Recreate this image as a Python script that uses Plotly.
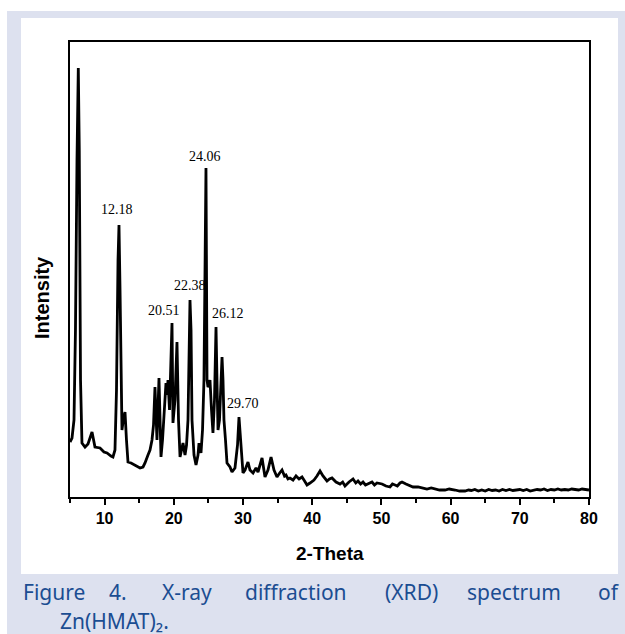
import plotly.graph_objects as go

# ---------------- data ----------------
two_theta = [5.00, 5.29, 5.58, 5.79, 6.01, 6.20, 6.34, 6.52, 6.73, 7.17, 7.60, 8.18, 8.61, 9.34,
             9.91, 10.35, 10.92, 11.21, 11.50, 11.72, 11.94, 12.08, 12.23, 12.37, 12.51, 12.73,
             12.95, 13.16, 13.38, 13.82, 14.39, 15.12, 15.55, 15.84, 16.27, 16.56, 16.85, 17.07,
             17.28, 17.43, 17.57, 17.86, 18.01, 18.15, 18.37, 18.58, 18.87, 19.02, 19.16, 19.38,
             19.60, 19.74, 19.88, 20.17, 20.46, 20.68, 20.90, 21.11, 21.33, 21.62, 21.84, 22.05,
             22.20, 22.34, 22.49, 22.63, 22.92, 23.21, 23.50, 23.64, 23.93, 24.15, 24.36, 24.51,
             24.65, 24.80, 24.94, 25.16, 25.23, 25.45, 25.66, 25.88, 26.10, 26.24, 26.39, 26.60,
             26.82, 26.97, 27.11, 27.25, 27.47, 27.69, 28.12, 28.41, 28.84, 29.21, 29.42, 29.64,
             30.00, 30.29, 30.72, 31.01, 31.45, 31.88, 32.17, 32.75, 33.18, 33.61, 34.05, 34.48,
             34.91, 35.30, 35.64, 36.00, 36.21, 36.50, 36.79, 37.23, 37.66, 38.10, 38.53, 38.90,
             39.25, 39.68, 40.26, 40.69, 41.13, 41.56, 42.14, 42.50, 42.86, 43.44, 44.02, 44.40,
             44.74, 45.32, 45.90, 46.30, 46.62, 47.00, 47.34, 47.70, 48.06, 48.64, 49.00, 49.36,
             50.09, 50.66, 51.24, 51.60, 51.97, 52.30, 52.69, 52.98, 53.55, 54.13, 54.57, 55.29,
             55.87, 56.59, 57.20, 57.75, 58.40, 59.19, 59.80, 60.64, 61.30, 62.08, 62.60, 63.0,
             63.5, 64.0, 64.5, 65.0, 65.5, 66.0, 66.5, 67.0, 67.5, 68.0, 68.5, 69.0, 69.5, 70.0,
             70.5, 71.0, 71.5, 72.0, 72.5, 73.0, 73.5, 74.0, 74.5, 75.0, 75.5, 76.0, 76.5, 77.0,
             77.5, 78.0, 78.5, 79.0, 79.5, 80.0]
intensity = [55, 59, 77, 167, 337, 429, 347, 117, 54, 50, 53, 65, 50, 49,
             45, 44, 41, 40, 47, 107, 237, 272, 207, 97, 67, 79,
             85, 57, 35, 34, 32, 29, 30, 34, 42, 47, 57, 72,
             110, 77, 57, 119, 77, 40, 57, 77, 114, 102, 117, 87,
             137, 174, 74, 97, 155, 77, 40, 47, 54, 42, 52, 77,
             157, 197, 167, 77, 42, 32, 42, 54, 44, 67, 117, 217,
             329, 117, 110, 112, 117, 87, 64, 97, 170, 117, 67, 77,
             117, 140, 117, 77, 57, 34, 30, 25, 29, 52, 80, 57,
             24, 27, 35, 27, 24, 29, 25, 39, 20, 27, 40, 27,
             20, 24, 27, 21, 22, 18, 19, 17, 21, 18, 20, 16,
             12, 14, 17, 21, 26, 21, 16, 18, 19, 15, 13, 15,
             11, 15, 18, 14, 16, 13, 15, 12, 13, 15, 12, 14,
             13, 11, 10, 13, 12, 11, 14, 15, 13, 11, 10, 10,
             9, 8, 9, 8, 7, 7, 8, 7, 6, 6, 7, 6.5,
             7.5, 6, 7, 6, 7.5, 6.5, 7, 6, 7.5, 6.5, 7.5, 6.5, 7, 7.5,
             6.5, 7.5, 6, 7, 7.5, 7, 8, 6.5, 7.5, 7, 8, 7, 7.5, 7,
             8, 7.5, 7, 8, 7.5, 7]

peak_labels = ["12.18", "20.51", "22.38", "24.06", "26.12", "29.70"]
x_tick_vals = [10, 20, 30, 40, 50, 60, 70, 80]
x_title = "2-Theta"
y_title = "Intensity"
caption_line1 = ["Figure", "4.", "X-ray", "diffraction", "(XRD)", "spectrum", "of"]
caption_line2 = "Zn(HMAT)₂."

# ---------------- layout constants ----------------
W, H = 625, 634
L, R, T, B = 70, 589, 42, 497          # plot frame in pixels
X0, X1 = 5, 80
Y0, Y1 = 0, 455

def px(xp):   # pixel x -> paper x
    return (xp - L) / (R - L)

def py(yp):   # pixel y -> paper y
    return (B - yp) / (B - T)

label_pos = [(117, 209), (164, 310), (190, 285), (205, 156), (228, 313), (243, 403)]
caption_x = [21, 107, 160, 243, 383, 465, 596]

fig = go.Figure()
fig.add_trace(go.Scatter(x=two_theta, y=intensity, mode="lines",
                         line=dict(color="black", width=2.8, shape="linear"),
                         hoverinfo="skip", showlegend=False))

annotations = []
for txt, (ax, ay) in zip(peak_labels, label_pos):
    annotations.append(dict(x=px(ax), y=py(ay), xref="paper", yref="paper", text=txt,
                            showarrow=False, xanchor="center", yanchor="middle",
                            font=dict(family="Liberation Serif, Times New Roman, serif",
                                      size=14, color="black")))

annotations.append(dict(x=px(330), y=py(553), xref="paper", yref="paper", text=f"<b>{x_title}</b>",
                        showarrow=False, xanchor="center", yanchor="middle",
                        font=dict(family="Liberation Sans, Arial, sans-serif", size=19, color="black")))
annotations.append(dict(x=px(42), y=py(298), xref="paper", yref="paper", text=f"<b>{y_title}</b>",
                        showarrow=False, xanchor="center", yanchor="middle", textangle=-90,
                        font=dict(family="Liberation Sans, Arial, sans-serif", size=20, color="black")))

cap_color = "#1b4d92"
cap_font = dict(family="Noto Sans, Open Sans, sans-serif", size=21, color=cap_color)
for word, cx in zip(caption_line1, caption_x):
    annotations.append(dict(x=px(cx), y=py(592), xref="paper", yref="paper", text=word,
                            showarrow=False, xanchor="left", yanchor="middle", font=cap_font))
annotations.append(dict(x=px(58), y=py(621), xref="paper", yref="paper", text=caption_line2,
                        showarrow=False, xanchor="left", yanchor="middle", font=cap_font))

shapes = [
    dict(type="rect", xref="paper", yref="paper", x0=px(7), x1=px(625), y0=py(11), y1=py(634),
         fillcolor="#dde1ef", line=dict(width=0), layer="below"),
    dict(type="rect", xref="paper", yref="paper", x0=px(21), x1=px(618), y0=py(18), y1=py(574),
         fillcolor="white", line=dict(width=0), layer="below"),
]

fig.update_layout(
    width=W, height=H,
    margin=dict(l=L, r=W - R, t=T, b=H - B, pad=0),
    paper_bgcolor="white", plot_bgcolor="rgba(0,0,0,0)",
    annotations=annotations, shapes=shapes,
    xaxis=dict(range=[X0, X1], tickvals=x_tick_vals, ticks="outside", ticklen=6, tickwidth=1.5,
               tickcolor="black", showline=True, linecolor="black", linewidth=2, mirror=True,
               showgrid=False, zeroline=False,
               tickfont=dict(family="Liberation Sans, Arial, sans-serif", size=16, color="black",
                             weight="bold"),
               minor=dict(dtick=5, tick0=0, ticks="outside", ticklen=4, tickwidth=1.5, tickcolor="black"),
               ),
    yaxis=dict(range=[Y0, Y1], showticklabels=False, ticks="", showline=True, linecolor="black",
               linewidth=2, mirror=True, showgrid=False, zeroline=False),
)

fig.write_html("out.html")
